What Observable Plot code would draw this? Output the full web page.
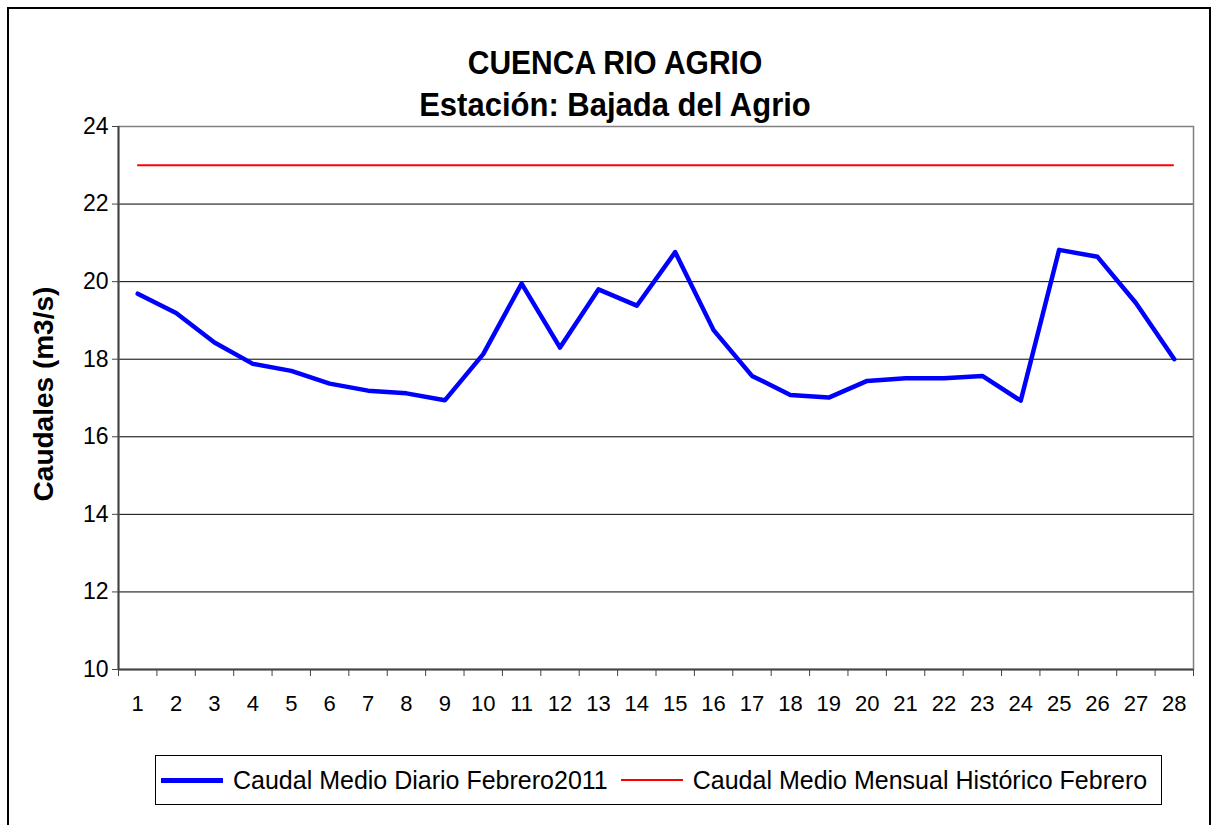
<!DOCTYPE html>
<html>
<head>
<meta charset="utf-8">
<script src="https://cdn.jsdelivr.net/npm/d3@7"></script>
<script src="https://cdn.jsdelivr.net/npm/@observablehq/plot@0.6"></script>
<style>
  html, body { margin: 0; padding: 0; background: #fff; overflow: hidden; }
  #wrap { position: relative; width: 1215px; height: 825px; overflow: hidden; font-family: "Liberation Sans", Arial, sans-serif; color: #000; }
  #border { position: absolute; left: 7px; top: 7px; width: 1204px; height: 840px; border: 2px solid #000; box-sizing: border-box; }
  #chart { position: absolute; left: 0; top: 0; }
  .title { position: absolute; left: 315px; width: 600px; text-align: center; font-weight: bold; line-height: 30px; white-space: nowrap; transform: scaleY(1.08); }
  #ylabel { position: absolute; left: 44px; top: 394px; transform: translate(-50%, -50%) rotate(-90deg); font-weight: bold; font-size: 28px; white-space: nowrap; }
  #legend { position: absolute; left: 155px; top: 755px; width: 1007px; height: 50px; border: 1px solid #000; box-sizing: border-box; display: flex; align-items: center; font-size: 25px; white-space: nowrap; }
  .sw { display: inline-block; width: 62px; margin-right: 10px; }
</style>
</head>
<body>
<div id="wrap">
  <div id="border"></div>
  <div id="chart"></div>
  <div class="title" id="t1" style="top:48px;font-size:30px"></div>
  <div class="title" id="t2" style="top:90px;font-size:31px"></div>
  <div id="ylabel"></div>
  <div id="legend"></div>
</div>
<script>
const titleText = "CUENCA RIO AGRIO";
const subtitleText = "Estación: Bajada del Agrio";
const yLabelText = "Caudales (m3/s)";
const seriesNames = ["Caudal Medio Diario Febrero2011", "Caudal Medio Mensual Histórico Febrero"];
const seriesColors = ["#0000ff", "#ff0000"];

const days = [1,2,3,4,5,6,7,8,9,10,11,12,13,14,15,16,17,18,19,20,21,22,23,24,25,26,27,28];
const caudalDiario = [19.69,19.19,18.43,17.88,17.70,17.37,17.19,17.12,16.94,18.13,19.95,18.30,19.80,19.38,20.76,
                      18.75,17.57,17.08,17.01,17.44,17.51,17.51,17.57,16.93,20.82,20.64,19.45,18.00];
const caudalHistorico = 23.0;
const yTicks = [10,12,14,16,18,20,22,24];

document.getElementById("t1").textContent = titleText;
document.getElementById("t2").textContent = subtitleText;
document.getElementById("ylabel").textContent = yLabelText;

const legend = document.getElementById("legend");
seriesNames.forEach((name, i) => {
  const sw = document.createElement("span");
  sw.className = "sw";
  sw.style.borderTop = (i === 0 ? 5 : 2) + "px solid " + seriesColors[i];
  sw.style.marginLeft = i === 0 ? "5px" : "13px";
  legend.appendChild(sw);
  const t = document.createElement("span");
  t.textContent = name;
  legend.appendChild(t);
});

const data = days.map((d, i) => ({day: d, q: caudalDiario[i]}));
const bounds = [days[0] - 0.5, ...days.map(d => d + 0.5)];

const chart = Plot.plot({
  width: 1215,
  height: 740,
  marginTop: 126,
  marginBottom: 71,
  marginLeft: 118,
  marginRight: 22,
  style: {fontFamily: "Liberation Sans, Arial, sans-serif", fontSize: "22px", color: "#000", background: "transparent"},
  x: {domain: [0.5, 28.5]},
  y: {domain: [10, 24]},
  marks: [
    Plot.ruleY(yTicks.slice(1, -1), {stroke: "#000", strokeWidth: 1}),
    Plot.frame({stroke: "#808080", strokeWidth: 1.5}),
    Plot.ruleX([0.5], {stroke: "#444", strokeWidth: 2}),
    Plot.ruleY([10], {stroke: "#444", strokeWidth: 2}),
    Plot.axisY({ticks: yTicks, tickSize: 6, tickPadding: 4, label: null, tickFormat: d => String(d), stroke: "#444", fontSize: 23}),
    Plot.axisX({ticks: days, tickSize: 0, tickPadding: 26, label: null, tickFormat: d => String(d), fontSize: 22}),
    Plot.axisX({ticks: bounds, tickSize: 7, tickFormat: () => "", label: null, stroke: "#444"}),
    Plot.ruleY([caudalHistorico], {x1: days[0], x2: days[days.length - 1], stroke: seriesColors[1], strokeWidth: 2}),
    Plot.line(data, {x: "day", y: "q", stroke: seriesColors[0], strokeWidth: 4.5})
  ]
});
document.getElementById("chart").appendChild(chart);
</script>
</body>
</html>
